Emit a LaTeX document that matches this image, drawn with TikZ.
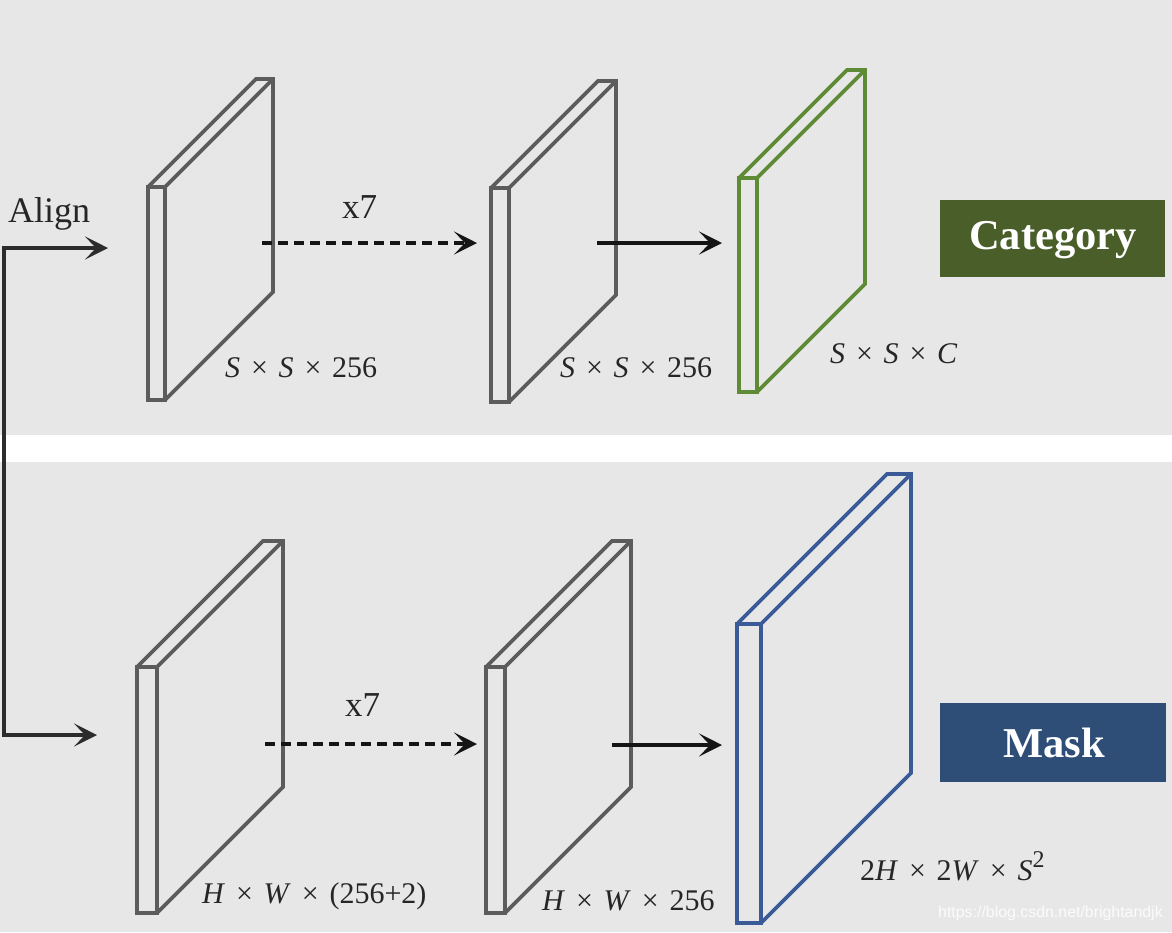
\documentclass[tikz,border=0pt]{standalone}
\usepackage{fontspec}
\setmainfont{Liberation Serif}
\newfontfamily\wmfont{Liberation Sans}
\usetikzlibrary{arrows.meta}
\definecolor{bggray}{HTML}{E8E7E7}
\definecolor{plategray}{HTML}{5C5C5C}
\definecolor{plategreen}{HTML}{5F8A36}
\definecolor{plateblue}{HTML}{3B5A98}
\definecolor{catgreen}{HTML}{4A5E2A}
\definecolor{maskblue}{HTML}{2F4E77}
\definecolor{arrowblack}{HTML}{151515}
\tikzset{
  platestyle/.style={line width=3.6pt, line join=miter},
  flowarrow/.style={line width=3.6pt, draw=arrowblack, -{Stealth[length=23pt,width=23pt,inset=11pt]}},
  dashedflow/.style={flowarrow, dash pattern=on 10pt off 6pt},
  dimlabel/.style={font=\fontsize{30}{36}\selectfont, anchor=base west, inner sep=0pt, text=black!85},
  reptext/.style={font=\fontsize{35}{40}\selectfont, anchor=base west, inner sep=0pt, text=black!85},
  headbox/.style={font=\fontsize{42.5}{48}\selectfont\bfseries, text=white, inner sep=0pt}
}
% name, x0, ybottom, thickness, height, depth, colour
\newcommand{\fmap}[7]{%
  \draw[platestyle, draw=#7] (#2,#3) rectangle ({#2+#4},{#3-#5});
  \draw[platestyle, draw=#7] (#2,{#3-#5}) -- ++(#6,-#6) -- ++(#4,0) -- ++(0,#5) -- ({#2+#4},#3);
  \draw[platestyle, draw=#7] ({#2+#4},{#3-#5}) -- ++(#6,-#6);
  \coordinate (#1) at ({#2+#4+#6},{#3-#6-#5/2});
}
\newcommand{\dimx}{\hspace{0.36em}×\hspace{0.36em}}
\begin{document}
\begin{tikzpicture}[x=1pt,y=-1pt]
\useasboundingbox (0,0) rectangle (1172,932);
\fill[bggray] (0,0) rectangle (1172,932);
\fill[white] (0,435) rectangle (1172,462);

% feature maps
\fmap{p1}{148}{400}{17}{213}{108}{plategray}
\fmap{p2}{491}{402}{18}{214}{107}{plategray}
\fmap{p3}{739}{392}{18}{214}{108}{plategreen}
\fmap{q1}{137}{913}{20}{246}{126}{plategray}
\fmap{q2}{486}{913}{19}{246}{126}{plategray}
\fmap{q3}{737}{923}{24}{299}{150}{plateblue}

% input branch
\coordinate (inTop) at (108,248);
\coordinate (cornerTop) at (4,248);
\coordinate (cornerBot) at (4,735);
\coordinate (inBot) at (97,735);
\draw[line width=3.6pt, draw=arrowblack!90, {Stealth[length=23pt,width=23pt,inset=11pt]}-{Stealth[length=23pt,width=23pt,inset=11pt]}]
  (inTop) -- (cornerTop) -- (cornerBot) -- (inBot);
\node[reptext, font=\fontsize{36}{40}\selectfont] (align) at (8,222) {Align};

% top flow
\coordinate (a1s) at (262,243);
\coordinate (a1e) at (477,243);
\coordinate (a2s) at (597,243);
\coordinate (a2e) at (722,243);
\draw[dashedflow] (a1s) -- (a1e);
\draw[flowarrow] (a2s) -- (a2e);
\node[reptext] (rep1) at (342,218) {x7};

% bottom flow
\coordinate (b1s) at (265,744);
\coordinate (b1e) at (477,744);
\coordinate (b2s) at (612,745);
\coordinate (b2e) at (722,745);
\draw[dashedflow] (b1s) -- (b1e);
\draw[flowarrow] (b2s) -- (b2e);
\node[reptext] (rep2) at (345,716) {x7};

% dimension labels
\node[dimlabel] (l1) at (225,377) {\textit{S}\dimx\textit{S}\dimx 256};
\node[dimlabel] (l2) at (560,377) {\textit{S}\dimx\textit{S}\dimx 256};
\node[dimlabel] (l3) at (830,363) {\textit{S}\dimx\textit{S}\dimx\textit{C}};
\node[dimlabel] (m1) at (202,903) {\textit{H}\dimx\textit{W}\dimx(256+2)};
\node[dimlabel] (m2) at (542,910) {\textit{H}\dimx\textit{W}\dimx 256};
\node[dimlabel] (m3) at (860,880) {2\textit{H}\dimx 2\textit{W}\dimx\textit{S}\raisebox{0.42em}{\fontsize{24}{28}\selectfont 2}};

% heads
\fill[catgreen] (940,200) rectangle (1165,277);
\node[headbox] (cat) at (1053,240) {Category};
\fill[maskblue] (940,703) rectangle (1166,782);
\node[headbox] (mask) at (1054,743) {Mask};

% watermark
\node[anchor=base west, inner sep=0pt, font=\wmfont\fontsize{15.9}{20}\selectfont, text=white, opacity=0.85] (wm) at (938,917) {https://blog.csdn.net/brightandjk};
\end{tikzpicture}
\end{document}
